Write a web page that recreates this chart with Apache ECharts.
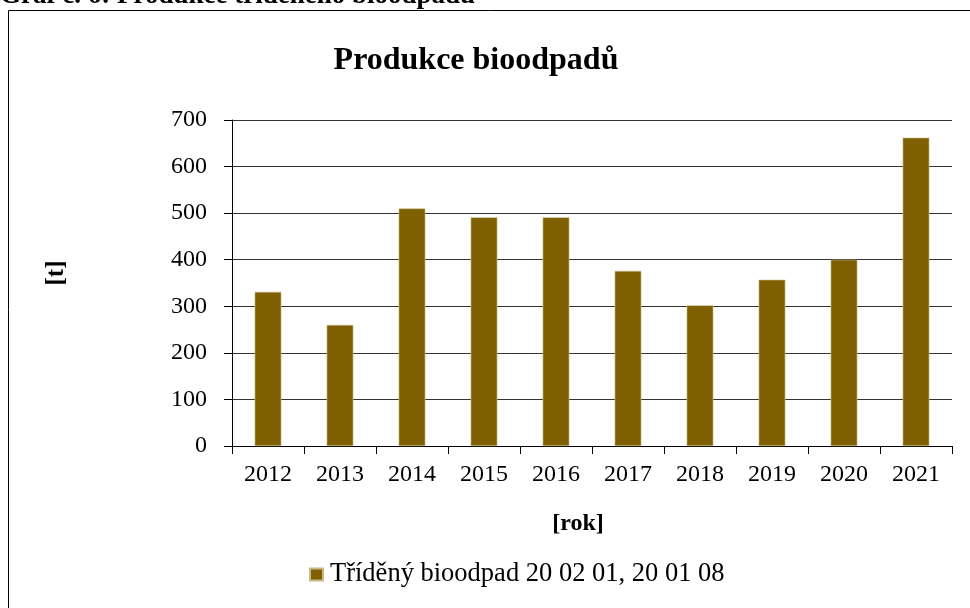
<!DOCTYPE html>
<html><head><meta charset="utf-8">
<script src="https://cdn.jsdelivr.net/npm/echarts@6/dist/echarts.min.js"></script>
<style>html,body{margin:0;padding:0;background:#fff}#c{width:970px;height:608px}</style>
</head><body><div id="c"></div>
<script>
const categories = ['2012','2013','2014','2015','2016','2017','2018','2019','2020','2021'];
const values = [331, 260, 510, 491, 491, 376, 302, 357, 400, 662];
const seriesName = 'Tříděný bioodpad 20 02 01, 20 01 08';
const chartTitle = 'Produkce bioodpadů';
const captionText = 'Graf č. 6: Produkce tříděného bioodpadu';
const yName = '[t]';
const xName = '[rok]';

const F = '"Liberation Serif","Times New Roman",serif';
const chart = echarts.init(document.getElementById('c'));
chart.setOption({
  animation: false,
  textStyle: {fontFamily: F, color: '#000'},
  title: {text: chartTitle, left: 471, top: 40, textAlign: 'center',
    textStyle: {fontFamily: F, fontSize: 32, fontWeight: 'bold', color: '#000'}},
  graphic: [
    {type: 'rect', shape: {x: 8.5, y: 10.5, width: 980, height: 620}, style: {fill: 'none', stroke: '#000', lineWidth: 1}, z: -1},
    {type: 'text', x: 0, y: 10, style: {text: captionText, font: 'bold 27px ' + F, fill: '#000', verticalAlign: 'bottom'}},
    {type: 'text', x: 57, y: 273, rotation: Math.PI / 2, style: {text: yName, font: 'bold 25px ' + F, fill: '#000', align: 'center', verticalAlign: 'middle'}},
    {type: 'text', x: 578, y: 524, style: {text: xName, font: 'bold 24px ' + F, fill: '#000', align: 'center', verticalAlign: 'middle'}}
  ],
  legend: {data: [seriesName], left: 309, top: 561, padding: 0, icon: 'rect', itemWidth: 13, itemHeight: 12, itemGap: 6,
    textStyle: {fontFamily: F, fontSize: 26.5, color: '#000', padding: [0, 0, 0, 2]}},
  grid: {left: 232, right: 18, top: 120, bottom: 162},
  xAxis: {type: 'category', data: categories,
    axisLine: {lineStyle: {color: '#000', width: 1}},
    axisTick: {show: true, length: 8, lineStyle: {color: '#000'}},
    axisLabel: {fontFamily: F, fontSize: 24, color: '#000', margin: 17}},
  yAxis: {type: 'value', min: 0, max: 700, interval: 100,
    axisLine: {show: true, lineStyle: {color: '#000', width: 1}},
    axisTick: {show: true, length: 8, lineStyle: {color: '#000'}},
    splitLine: {lineStyle: {color: '#333', width: 1}},
    axisLabel: {fontFamily: F, fontSize: 24, color: '#000', margin: 25}},
  series: [{name: seriesName, type: 'bar', data: values, barWidth: '37%',
    itemStyle: {color: '#7F6000', borderColor: '#C8B88C', borderWidth: 0.6}}]
});
</script></body></html>
